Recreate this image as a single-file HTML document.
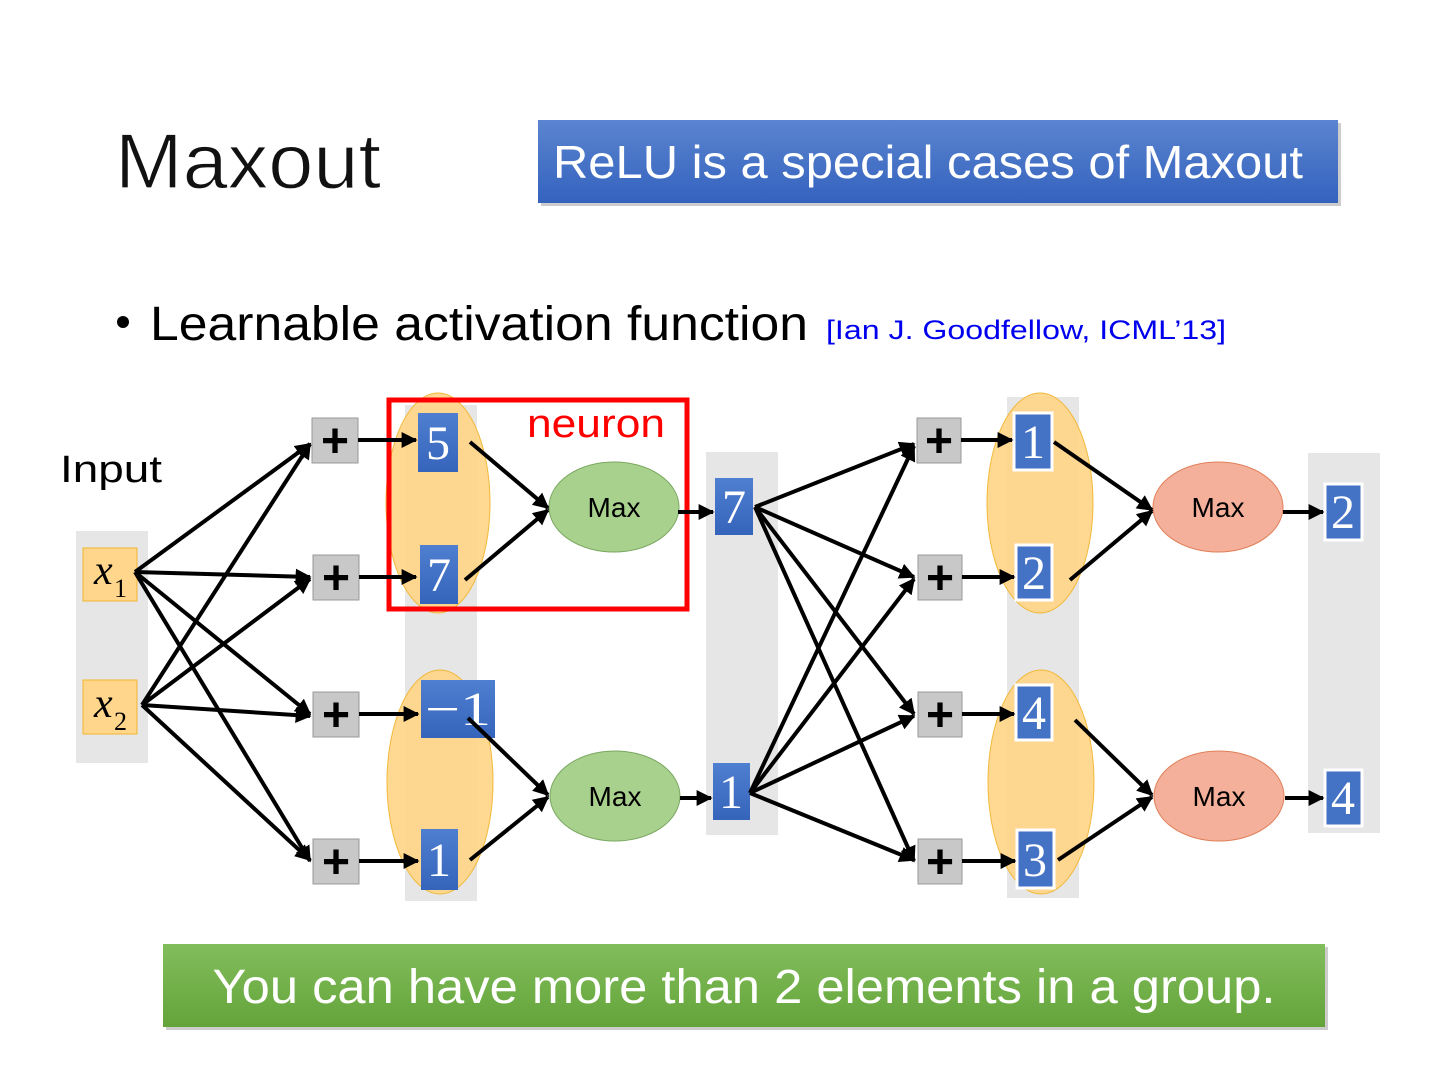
<!DOCTYPE html>
<html><head><meta charset="utf-8"><style>
html,body{margin:0;padding:0;background:#fff;}
svg{display:block;}
</style></head><body>
<svg width="1440" height="1080" viewBox="0 0 1440 1080" xmlns="http://www.w3.org/2000/svg" font-family="Liberation Sans, sans-serif">
<defs>
<marker id="ah" viewBox="0 0 10 10" refX="9" refY="5" markerWidth="4" markerHeight="4" orient="auto" markerUnits="strokeWidth"><path d="M0,0 L10,5 L0,10 z" fill="#000"/></marker>
<linearGradient id="gb" x1="0" y1="0" x2="0" y2="1"><stop offset="0" stop-color="#5b85d0"/><stop offset="1" stop-color="#3462be"/></linearGradient>
<linearGradient id="gg" x1="0" y1="0" x2="0" y2="1"><stop offset="0" stop-color="#82bd5c"/><stop offset="1" stop-color="#64a43a"/></linearGradient>
<linearGradient id="bb" x1="0" y1="0" x2="0" y2="1"><stop offset="0" stop-color="#4f7fd0"/><stop offset="1" stop-color="#3564bb"/></linearGradient>
</defs>
<text x="115" y="188" font-size="78" fill="#111" textLength="266" lengthAdjust="spacingAndGlyphs" stroke="#fff" stroke-width="1.2">Maxout</text>
<rect x="541" y="123" width="800" height="83" fill="#aaa" opacity="0.6"/>
<rect x="538" y="120" width="800" height="83" fill="url(#gb)"/>
<text x="553" y="178" font-size="46" fill="#fff" textLength="750" lengthAdjust="spacingAndGlyphs">ReLU is a special cases of Maxout</text>
<circle cx="123" cy="322" r="6" fill="#000"/>
<text x="150" y="340" font-size="48" fill="#000" textLength="658" lengthAdjust="spacingAndGlyphs">Learnable activation function</text>
<text x="826" y="339" font-size="27" fill="#0000ee" textLength="400" lengthAdjust="spacingAndGlyphs">[Ian J. Goodfellow, ICML’13]</text>
<text x="60" y="482" font-size="38" fill="#000" textLength="102" lengthAdjust="spacingAndGlyphs">Input</text>

<rect x="76" y="531" width="72" height="232" fill="#e6e6e6"/>
<rect x="405" y="405" width="72" height="496" fill="#e6e6e6"/>
<rect x="706" y="452" width="72" height="383" fill="#e6e6e6"/>
<rect x="1007" y="397" width="72" height="501" fill="#e6e6e6"/>
<rect x="1308" y="453" width="72" height="380" fill="#e6e6e6"/>

<g fill="#ffd68c" stroke="#f2b630" stroke-width="1" opacity="0.95">
<ellipse cx="438" cy="503" rx="52" ry="110"/>
<ellipse cx="440" cy="782" rx="53" ry="112"/>
<ellipse cx="1040" cy="503" rx="53" ry="110"/>
<ellipse cx="1041" cy="782" rx="53" ry="112"/>
</g>

<rect x="83" y="548" width="54" height="53" fill="#ffd68c" stroke="#f2b630"/>
<rect x="83" y="680" width="54" height="54" fill="#ffd68c" stroke="#f2b630"/>
<g font-family="Liberation Serif, serif" font-style="italic" fill="#000">
<text x="94" y="584" font-size="42">x</text><text x="114" y="597" font-size="26" font-style="normal">1</text>
<text x="94" y="717" font-size="42">x</text><text x="114" y="730" font-size="26" font-style="normal">2</text>
</g>

<g fill="#c8c8c8" stroke="#999">
<rect x="312" y="418" width="46" height="45"/><rect x="313" y="555" width="46" height="45"/>
<rect x="313" y="692" width="46" height="45"/><rect x="313" y="839" width="46" height="45"/>
<rect x="917" y="418" width="44" height="45"/><rect x="918" y="555" width="44" height="45"/>
<rect x="918" y="692" width="44" height="45"/><rect x="918" y="839" width="44" height="45"/>
</g>
<g font-size="48" font-weight="bold" fill="#000" text-anchor="middle">
<text x="335" y="457">+</text><text x="336" y="594">+</text><text x="336" y="731">+</text><text x="336" y="878">+</text>
<text x="939" y="457">+</text><text x="940" y="594">+</text><text x="940" y="731">+</text><text x="940" y="878">+</text>
</g>

<g fill="url(#bb)">
<rect x="418" y="413" width="40" height="59"/>
<rect x="420" y="545" width="38" height="59"/>
<rect x="421" y="680" width="74" height="58"/>
<rect x="421" y="829" width="37" height="61"/>
<rect x="715" y="478" width="38" height="57"/>
<rect x="713" y="763" width="37" height="57"/>
</g>
<g fill="#4472c4" stroke="#fff" stroke-width="3">
<rect x="1014" y="413" width="38" height="57"/>
<rect x="1016" y="545" width="36" height="55"/>
<rect x="1016" y="685" width="36" height="55"/>
<rect x="1017" y="830" width="37" height="58"/>
<rect x="1325" y="484" width="37" height="56"/>
<rect x="1325" y="770" width="37" height="56"/>
</g>
<g font-family="Liberation Serif, serif" font-size="48" fill="#fff" text-anchor="middle">
<text x="438" y="459">5</text><text x="439" y="591">7</text><text x="439" y="876">1</text>
<text x="734" y="523">7</text><text x="731" y="808">1</text>
<text x="1033" y="458">1</text><text x="1034" y="589">2</text><text x="1034" y="729">4</text><text x="1035" y="876">3</text>
<text x="1343" y="528">2</text><text x="1343" y="814">4</text>
</g>
<text x="425" y="725" font-family="Liberation Serif, serif" font-size="48" fill="#fff" textLength="66" lengthAdjust="spacingAndGlyphs">−1</text>

<g stroke="#7aa860" fill="#a9d18e"><ellipse cx="614" cy="507" rx="65" ry="45"/><ellipse cx="615" cy="796" rx="65" ry="45"/></g>
<g stroke="#e0805a" fill="#f4b09a"><ellipse cx="1218" cy="507" rx="65" ry="45"/><ellipse cx="1219" cy="796" rx="65" ry="45"/></g>
<g font-size="28" fill="#000" text-anchor="middle">
<text x="614" y="517">Max</text><text x="615" y="806">Max</text>
<text x="1218" y="517">Max</text><text x="1219" y="806">Max</text>
</g>

<rect x="389" y="400" width="298" height="209" fill="none" stroke="#f00" stroke-width="5"/>
<text x="527" y="437" font-size="40" fill="#f00" textLength="138" lengthAdjust="spacingAndGlyphs">neuron</text>

<g stroke="#000" stroke-width="4" marker-end="url(#ah)" fill="none">
<line x1="135" y1="572" x2="310" y2="444"/><line x1="135" y1="572" x2="310" y2="577"/>
<line x1="135" y1="572" x2="310" y2="714"/><line x1="135" y1="572" x2="310" y2="861"/>
<line x1="142" y1="705" x2="310" y2="444"/><line x1="142" y1="705" x2="310" y2="579"/>
<line x1="142" y1="705" x2="310" y2="716"/><line x1="142" y1="705" x2="310" y2="860"/>
<line x1="358" y1="440" x2="416" y2="440"/><line x1="359" y1="577" x2="416" y2="577"/>
<line x1="359" y1="714" x2="418" y2="714"/><line x1="359" y1="861" x2="418" y2="861"/>
<line x1="470" y1="442" x2="548" y2="508"/><line x1="465" y1="580" x2="548" y2="510"/>
<line x1="468" y1="718" x2="548" y2="795"/><line x1="470" y1="860" x2="548" y2="797"/>
<line x1="678" y1="512" x2="713" y2="512"/><line x1="680" y1="798" x2="711" y2="798"/>
<line x1="755" y1="507" x2="914" y2="444"/><line x1="755" y1="507" x2="914" y2="577"/>
<line x1="755" y1="507" x2="914" y2="714"/><line x1="755" y1="507" x2="914" y2="861"/>
<line x1="750" y1="793" x2="914" y2="446"/><line x1="750" y1="793" x2="914" y2="579"/>
<line x1="750" y1="793" x2="914" y2="716"/><line x1="750" y1="793" x2="914" y2="860"/>
<line x1="961" y1="440" x2="1012" y2="440"/><line x1="962" y1="577" x2="1014" y2="577"/>
<line x1="962" y1="714" x2="1014" y2="714"/><line x1="962" y1="861" x2="1015" y2="861"/>
<line x1="1054" y1="442" x2="1152" y2="510"/><line x1="1070" y1="580" x2="1152" y2="511"/>
<line x1="1075" y1="720" x2="1152" y2="795"/><line x1="1058" y1="860" x2="1152" y2="797"/>
<line x1="1283" y1="512" x2="1323" y2="512"/><line x1="1285" y1="798" x2="1323" y2="798"/>
</g>

<rect x="166" y="947" width="1162" height="83" fill="#aaa" opacity="0.6"/>
<rect x="163" y="944" width="1162" height="83" fill="url(#gg)"/>
<text x="744" y="1003" font-size="48" fill="#fff" text-anchor="middle" textLength="1063" lengthAdjust="spacingAndGlyphs">You can have more than 2 elements in a group.</text>
</svg>
</body></html>
